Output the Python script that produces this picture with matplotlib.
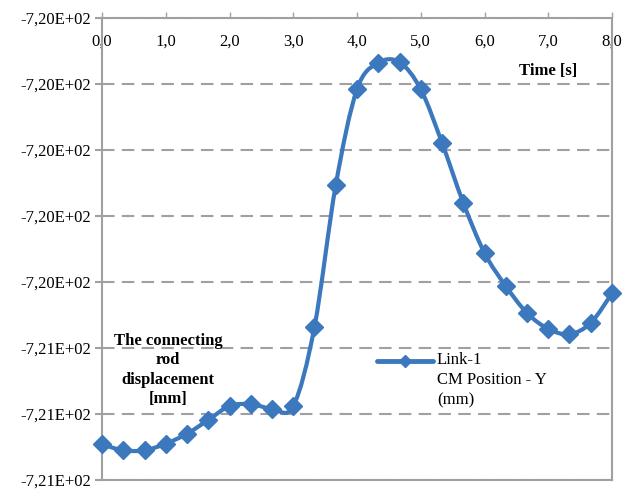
import numpy as np
import matplotlib
matplotlib.use("Agg")
import matplotlib.pyplot as plt
from matplotlib.path import Path
from matplotlib.patches import PathPatch
from matplotlib.lines import Line2D

# data: time [s] and CM position Y [mm]
time_s = [0.0, 0.333, 0.667, 1.0, 1.333, 1.667, 2.0, 2.333, 2.667, 3.0,
          3.333, 3.667, 4.0, 4.333, 4.667, 5.0, 5.333, 5.667, 6.0, 6.333,
          6.667, 7.0, 7.333, 7.667, 8.0]
pos_y = [-720.646, -720.655, -720.655, -720.645, -720.630, -720.609, -720.588,
         -720.585, -720.592, -720.588, -720.468, -720.253, -720.108, -720.068,
         -720.067, -720.108, -720.189, -720.280, -720.356, -720.406, -720.447,
         -720.471, -720.479, -720.462, -720.417]

x_ticks = [0, 1, 2, 3, 4, 5, 6, 7, 8]
x_ticklabels = ['0,0', '1,0', '2,0', '3,0', '4,0', '5,0', '6,0', '7,0', '8,0']
y_ticks = [-720.0, -720.1, -720.2, -720.3, -720.4, -720.5, -720.6, -720.7]
y_ticklabels = ['-7,20E+02'] * 5 + ['-7,21E+02'] * 3
series_name = 'Link-1\nCM Position - Y\n(mm)'

blue = '#3C78BE'
gray = '#A0A0A0'

plt.rcParams['font.family'] = ['Liberation Serif', 'DejaVu Serif']
plt.rcParams['font.size'] = 12

fig = plt.figure(figsize=(6.33, 4.90), dpi=100)
ax = fig.add_axes([102 / 633, 1 - 480 / 490, 510 / 633, 462 / 490])

ax.set_xlim(0, 8)
ax.set_ylim(-720.7, -720.0)

# smoothed line (excel style bezier through the points)
x = np.array(time_s)
y = np.array(pos_y)
verts = [(x[0], y[0])]
codes = [Path.MOVETO]
n = len(x)
for i in range(n - 1):
    p0 = np.array([x[max(i - 1, 0)], y[max(i - 1, 0)]])
    p1 = np.array([x[i], y[i]])
    p2 = np.array([x[i + 1], y[i + 1]])
    p3 = np.array([x[min(i + 2, n - 1)], y[min(i + 2, n - 1)]])
    c1 = p1 + (p2 - p0) / 6
    c2 = p2 - (p3 - p1) / 6
    verts += [tuple(c1), tuple(c2), tuple(p2)]
    codes += [Path.CURVE4] * 3
ax.add_patch(PathPatch(Path(verts, codes), fill=False, edgecolor=blue,
                       lw=3, capstyle='round', joinstyle='round', zorder=3))
ax.plot(time_s, pos_y, ls='none', marker='D', ms=9, color=blue, zorder=4,
        clip_on=False)

# grid
ax.set_yticks(y_ticks)
ax.set_yticklabels(y_ticklabels)
ax.yaxis.grid(True, color=gray, lw=1.5, dashes=(6, 3.5))
ax.set_axisbelow(True)

ax.set_xticks(x_ticks)
ax.set_xticklabels(x_ticklabels)
ax.tick_params(axis='x', bottom=False, top=True, labelbottom=False,
               labeltop=True, direction='out', length=4, width=1,
               color=gray, pad=-27)
ax.tick_params(axis='y', direction='out', length=5, width=1.5, color=gray,
               pad=3)

for s in ax.spines.values():
    s.set_color(gray)
    s.set_linewidth(1.5)

fig.text(548 / 633, 1 - 71 / 490, 'Time [s]', fontweight='bold',
         ha='center', va='center')
fig.text(168 / 633, 1 - 370 / 490, 'The connecting\nrod\ndisplacement\n[mm]',
         fontweight='bold', ha='center', va='center', linespacing=1.3)

# legend (drawn by hand so the handle sits on the first text line)
ly = 1 - 361 / 490
fig.add_artist(Line2D([377 / 633, 433 / 633], [ly, ly], color=blue, lw=3.5,
                      solid_capstyle='round'))
fig.add_artist(Line2D([405 / 633], [ly], color=blue, marker='D', ms=6,
                      ls='none'))
fig.text(437 / 633, 1 - 352 / 490, series_name, ha='left', va='top',
         linespacing=1.35)

fig.savefig('out.png', dpi=100)
